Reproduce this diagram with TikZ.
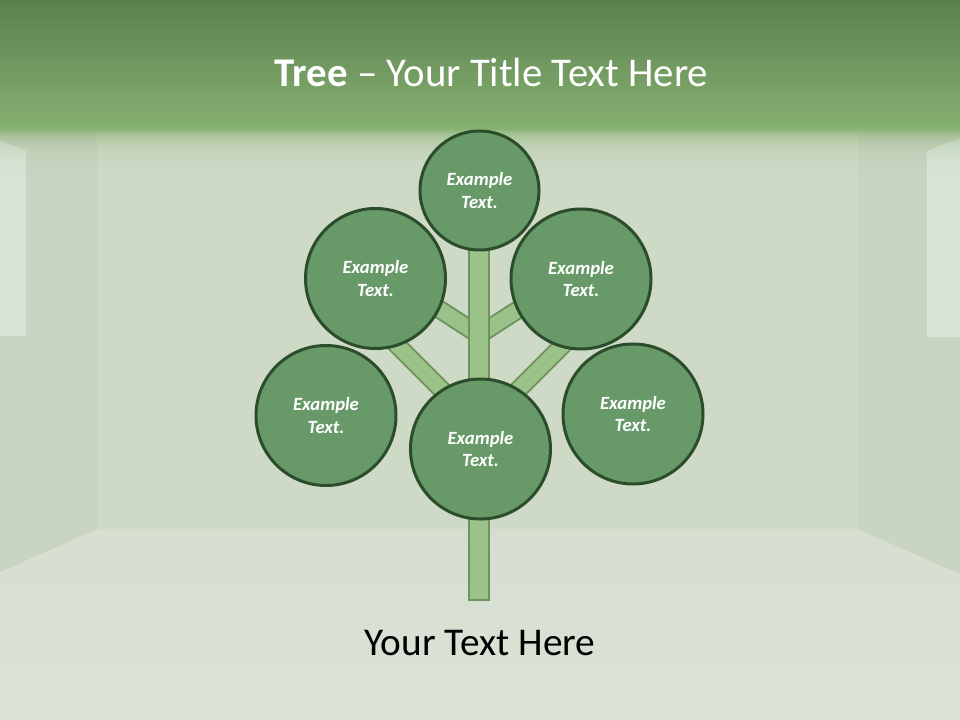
\documentclass[tikz,border=0pt]{standalone}
\usepackage{fontspec}
\setmainfont{Carlito}
\definecolor{wallc}{HTML}{CFDAC6}
\definecolor{sidec}{HTML}{CAD4C2}
\definecolor{panelc}{HTML}{D9E3D6}
\definecolor{floortop}{HTML}{D5DECF}
\definecolor{floorbot}{HTML}{DBE3D6}
\definecolor{bandtop}{HTML}{5C7F4E}
\definecolor{bandbot}{HTML}{85B171}
\definecolor{circfill}{HTML}{679A68}
\definecolor{circdraw}{HTML}{2C4D2C}
\definecolor{branchfill}{HTML}{9BC389}
\definecolor{branchdraw}{HTML}{6D9460}
\begin{document}
\begin{tikzpicture}[x=0.75pt,y=-0.75pt,
  leaf/.style={circle, draw=circdraw, line width=2.25pt, fill=circfill, inner sep=0pt,
    minimum size=#1, text=white, font=\fontsize{14}{17}\selectfont\bfseries\itshape, align=center},
  branch/.style={draw=branchdraw, line width=1.5pt, double=branchfill, double distance=11.25pt},
  trunkbox/.style={draw=branchdraw, line width=1.5pt, fill=branchfill}
]
\useasboundingbox (0,0) rectangle (960,720);
% room background
\fill[wallc] (0,0) rectangle (960,720);
\shade[top color=floortop, bottom color=floorbot] (0,572) -- (97,529) -- (858,529) -- (960,574) -- (960,720) -- (0,720) -- cycle;
\fill[sidec] (0,90) -- (97,135) -- (97,529) -- (0,572) -- cycle;
\fill[sidec] (960,90) -- (858,135) -- (858,529) -- (960,574) -- cycle;
\fill[panelc] (0,140) -- (26,151) -- (26,336) -- (0,336) -- cycle;
\fill[panelc] (927,151) -- (960,138) -- (960,337) -- (927,337) -- cycle;
% top band
\shade[top color=bandtop, bottom color=bandbot] (0,0) rectangle (960,128);
\foreach \d in {0,...,49} {
  \pgfmathsetmacro\op{exp(-0.09*\d)}
  \fill[bandbot, fill opacity=\op] (0,128+\d) rectangle (960,129+\d);
}
% title
\node[anchor=base, text=white, font=\fontsize{30.6}{36}\selectfont] (title) at (491.5,87) {\textbf{Tree} – Your Title Text Here};
% branch junctions and ends
\coordinate (jU) at (479,335);
\coordinate (jL) at (480,428);
\coordinate (sl) at (403.5,286);
\coordinate (sr) at (554.5,286);
\coordinate (bl) at (390,338);
\coordinate (br) at (570,338);
\draw[branch] (jU) -- (sl);
\draw[branch] (jU) -- (sr);
\draw[branch] (jL) -- (bl);
\draw[branch] (jL) -- (br);
% trunk
\draw[trunkbox] (469,230) rectangle (489,600);
% leaves
\node[leaf=89.25pt] (top) at (479.5,190.5) {Example\\Text.};
\node[leaf=105pt] (ul) at (375.5,278.5) {Example\\Text.};
\node[leaf=105pt] (ur) at (581,279) {Example\\Text.};
\node[leaf=105pt] (ll) at (326,415.5) {Example\\Text.};
\node[leaf=105pt] (lr) at (633,414) {Example\\Text.};
\node[leaf=105pt] (cb) at (480.5,449) {Example\\Text.};
% footer
\node[anchor=base, text=black, font=\fontsize{29.5}{34}\selectfont] (foot) at (480,655) {Your Text Here};
\end{tikzpicture}
\end{document}
